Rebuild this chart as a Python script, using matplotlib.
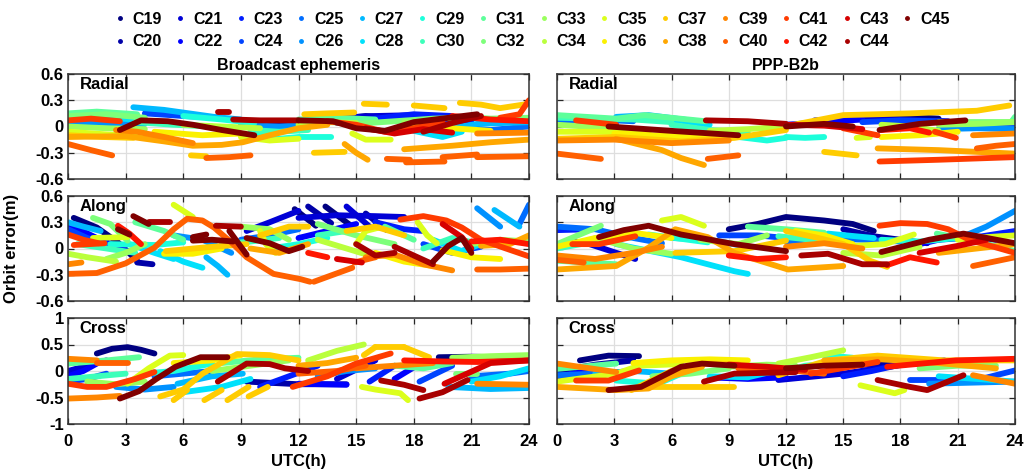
import numpy as np
import matplotlib
matplotlib.use("Agg")
import matplotlib.pyplot as plt
from matplotlib.lines import Line2D

plt.rcParams['font.family'] = ['Liberation Sans', 'DejaVu Sans']
plt.rcParams['font.weight'] = 'bold'

satellites = [f"C{n}" for n in range(19, 46)]
hour_ticks = [0, 3, 6, 9, 12, 15, 18, 21, 24]
ra_ticks = [-0.6, -0.3, 0, 0.3, 0.6]
ra_labels = ["-0.6", "-0.3", "0", "0.3", "0.6"]
cr_ticks = [-1, -0.5, 0, 0.5, 1]
cr_labels = ["-1", "-0.5", "0", "0.5", "1"]

# Orbit error arcs: (satellite, UTC hours, error in metres)
be_radial = [
    ("C31", [0, 1.5, 3.6], [0.15, 0.17, 0.14]),
    ("C32", [0, 2.0, 4.0], [0.12, 0.14, 0.10]),
    ("C25", [0.3, 1.5, 3.1], [0.09, 0.10, 0.08]),
    ("C41", [0, 1.2, 2.7], [0.07, 0.09, 0.06]),
    ("C45", [2.7, 3.8, 5.2, 6.5, 8.0, 9.7], [-0.04, 0.07, 0.06, 0.02, -0.04, -0.10]),
    ("C44", [7.8, 8.4], [0.17, 0.17]),
    ("C44", [8.6, 10, 12], [0.08, 0.07, 0.07]),
    ("C27", [3.4, 5.0, 7.6, 9.0], [0.22, 0.19, 0.11, 0.08]),
    ("C29", [6.0, 8.0, 9.7], [0.12, 0.08, 0.04]),
    ("C29", [9.7, 11, 12, 13.7], [-0.08, -0.14, -0.12, -0.12]),
    ("C35", [0, 2, 4.8], [-0.06, -0.09, -0.12]),
    ("C35", [9.0, 10.5, 12], [-0.12, -0.16, -0.14]),
    ("C37", [0, 1.8, 3.4], [-0.10, -0.12, -0.13]),
    ("C38", [0, 3.0, 5.0, 6.5, 8.0, 9.1, 10.5, 12, 13.5],
     [-0.12, -0.11, -0.17, -0.22, -0.21, -0.18, -0.10, -0.02, 0.02]),
    ("C39", [2.5, 3.6, 5.0, 6.5], [-0.04, -0.06, -0.12, -0.19]),
    ("C40", [0, 1.2, 2.3], [-0.20, -0.27, -0.33]),
    ("C37", [6.4, 7.2], [-0.33, -0.34]),
    ("C40", [7.2, 8.4, 9.5], [-0.36, -0.35, -0.33]),
    ("C36", [4.5, 7, 9], [-0.06, -0.10, -0.08]),
    ("C26", [0, 2, 4], [0.05, 0.04, 0.03]),
    ("C22", [0, 1.5, 3], [0.11, 0.12, 0.10]),
    ("C21", [0.5, 2], [0.08, 0.10]),
    ("C28", [0, 2, 3.5], [0.12, 0.10, 0.08]),
    ("C33", [0, 2, 4], [0.0, -0.02, -0.03]),
    ("C24", [4, 6, 8], [0.15, 0.12, 0.10]),
    ("C30", [3.5, 5.5, 7.5], [0.05, 0.02, 0.0]),
    ("C34", [6, 8, 10], [0.02, 0.0, -0.02]),
    ("C26", [9, 11, 13], [0.02, 0.0, 0.03]),
    ("C20", [10, 12, 14], [0.04, 0.06, 0.10]),
    ("C30", [9.5, 11, 12.5], [-0.04, -0.06, -0.04]),
    ("C37", [12.3, 13.5, 14.9], [0.14, 0.15, 0.16]),
    ("C37", [15.4, 16.6], [0.26, 0.25]),
    ("C37", [18.0, 19.6], [0.24, 0.21]),
    ("C37", [20.4, 21.5, 22.5, 24], [0.27, 0.25, 0.21, 0.26]),
    ("C21", [12, 14, 16, 18], [0.06, 0.10, 0.12, 0.13]),
    ("C23", [14, 16, 18, 20], [0.04, 0.09, 0.14, 0.12]),
    ("C19", [13.5, 15.5, 17], [0.07, 0.12, 0.10]),
    ("C31", [12, 14, 16], [0.08, 0.10, 0.08]),
    ("C32", [15, 17, 19, 21], [0.03, 0.06, 0.09, 0.10]),
    ("C32", [20.5, 22, 24], [0.11, 0.09, 0.10]),
    ("C33", [17.5, 19.5], [0.05, 0.0]),
    ("C22", [17, 19, 21], [0.12, 0.08, 0.05]),
    ("C36", [18, 20, 22], [0.02, -0.02, -0.05]),
    ("C35", [14.8, 15.5, 16.8], [-0.08, -0.15, -0.15]),
    ("C41", [13.5, 15, 16.5, 18, 19.5], [0.06, 0.02, -0.06, -0.02, 0.05]),
    ("C43", [15.5, 17, 18.5, 20], [-0.02, -0.08, -0.03, -0.07]),
    ("C45", [12, 13.8, 15, 16.5, 18.0, 21.3], [0.07, 0.06, -0.02, -0.05, 0.05, 0.14]),
    ("C44", [18.5, 20, 21.5], [-0.06, 0.04, 0.12]),
    ("C42", [20, 22, 24], [0.12, 0.08, 0.06]),
    ("C37", [12.8, 14.4], [-0.30, -0.29]),
    ("C38", [14.4, 15.0, 15.6], [-0.20, -0.30, -0.38]),
    ("C40", [16.6, 17.8], [-0.37, -0.38]),
    ("C40", [17.6, 19.6], [-0.41, -0.40]),
    ("C40", [19.5, 21.3], [-0.35, -0.32]),
    ("C40", [21.3, 24], [-0.35, -0.34]),
    ("C38", [17.5, 20, 22, 24], [-0.26, -0.22, -0.18, -0.15]),
    ("C39", [21.3, 24], [-0.08, -0.07]),
    ("C27", [19.0, 21.3, 24], [-0.05, 0.03, 0.05]),
    ("C25", [20, 22, 24], [0.0, -0.04, 0.0]),
    ("C41", [22.5, 23.5, 24], [0.10, 0.14, 0.30]),
    ("C28", [18, 19.5, 20.5], [-0.05, -0.12, -0.06]),
    ("C34", [12, 13.5, 15], [0.02, 0.05, 0.04]),
]

be_along = [
    ("C19", [0.3, 1.5, 2.6, 3.6], [0.35, 0.24, 0.07, -0.14]),
    ("C20", [3.6, 4.4], [-0.16, -0.18]),
    ("C22", [0, 1.5, 3.1], [0.28, 0.12, -0.03]),
    ("C24", [0, 1, 2], [0.22, 0.12, 0.05]),
    ("C27", [0, 0.8, 1.7], [0.30, 0.25, 0.20]),
    ("C30", [0.5, 2, 3.5], [0.05, 0.0, -0.05]),
    ("C34", [0, 1, 2.5], [-0.06, -0.10, -0.15]),
    ("C33", [2, 3, 4], [-0.12, -0.05, 0.05]),
    ("C32", [1.3, 2.2, 3.1], [0.35, 0.28, 0.09]),
    ("C31", [3.5, 5, 6], [0.30, 0.20, 0.10]),
    ("C35", [1.3, 3.1], [0.12, 0.13]),
    ("C41", [0, 0.8, 1.6], [0.16, 0.10, 0.06]),
    ("C41", [0.3, 1.9], [0.04, 0.06]),
    ("C42", [2.6, 3.2, 3.8], [0.26, 0.17, 0.05]),
    ("C39", [0, 0.7], [-0.18, -0.16]),
    ("C40", [0, 1.5, 3.0, 4.5, 5.5, 6.2, 7.0, 7.6, 8.5, 9.3, 10.7, 12.1, 12.6],
     [-0.29, -0.28, -0.17, 0.01, 0.22, 0.34, 0.32, 0.24, 0.07, -0.10, -0.29, -0.35, -0.38]),
    ("C45", [2.6, 3.2], [0.22, 0.16]),
    ("C45", [3.4, 4.2], [0.37, 0.28]),
    ("C44", [4.2, 5.3], [0.30, 0.30]),
    ("C45", [6.5, 7.2], [0.13, 0.16]),
    ("C44", [7.7, 9.0], [0.26, 0.25]),
    ("C45", [8.4, 9.3], [0.20, -0.07]),
    ("C45", [6.5, 7.5, 8.6], [0.09, 0.10, 0.08]),
    ("C45", [9.3, 10.5, 11.5, 12.2], [0.12, 0.06, -0.03, 0.02]),
    ("C35", [5.5, 6.5], [0.50, 0.36]),
    ("C28", [4.8, 6.0, 7.0], [-0.03, -0.15, -0.22]),
    ("C27", [7.2, 7.8, 8.3], [-0.10, -0.20, -0.30]),
    ("C28", [3.2, 4.5, 5.5], [0.05, -0.05, -0.12]),
    ("C26", [5.5, 7, 8.5], [0.15, 0.10, -0.05]),
    ("C29", [2.2, 4.5, 6.0], [0.05, 0.04, 0.07]),
    ("C37", [5.1, 7, 9.3], [-0.03, 0.01, 0.05]),
    ("C36", [5.0, 6.5, 8.0], [-0.06, -0.06, 0.0]),
    ("C35", [10.0, 10.3, 10.8], [0.20, 0.05, -0.05]),
    ("C21", [9.3, 10.5, 12], [0.20, 0.30, 0.43]),
    ("C25", [9, 10.5, 12], [0.10, 0.15, 0.22]),
    ("C30", [8, 9.5, 11], [0.05, 0.08, 0.12]),
    ("C33", [9, 10.5, 11.5], [0.25, 0.22, 0.10]),
    ("C37", [10, 11.5, 12.5], [0.15, 0.25, 0.25]),
    ("C38", [9.5, 11, 12.5], [0.0, -0.05, 0.05]),
    ("C29", [10.5, 12, 13.5], [0.0, 0.05, 0.12]),
    ("C19", [11.8, 12.9], [0.45, 0.26]),
    ("C20", [12.5, 13.7], [0.48, 0.29]),
    ("C19", [13.4, 14.8], [0.48, 0.25]),
    ("C21", [14.5, 15.7], [0.48, 0.25]),
    ("C20", [15.5, 16.6], [0.40, 0.21]),
    ("C21", [12, 14, 16, 17.5], [0.35, 0.38, 0.37, 0.36]),
    ("C23", [16.0, 17.5, 18.5], [0.30, 0.22, 0.20]),
    ("C22", [12, 13.5, 15], [0.12, 0.20, 0.28]),
    ("C34", [13, 14.5, 16], [0.10, 0.0, -0.10]),
    ("C41", [17.3, 18.5, 19.7, 20.5, 21.5, 22.8, 24], [0.33, 0.37, 0.32, 0.24, 0.10, 0.0, -0.09]),
    ("C44", [15.0, 16.0, 17.0], [0.05, -0.08, -0.05]),
    ("C44", [17.0, 18.2, 19.0], [0.02, -0.10, -0.18]),
    ("C45", [19.0, 19.8, 20.5, 21.0], [-0.15, 0.03, 0.12, -0.05]),
    ("C43", [19.5, 20.5, 21.0], [0.28, 0.13, 0.0]),
    ("C42", [12.5, 13.5], [-0.05, -0.10]),
    ("C43", [14, 15.3], [-0.12, -0.16]),
    ("C40", [12.8, 13.8, 14.8], [-0.38, -0.30, -0.22]),
    ("C40", [14.9, 16.0], [-0.16, -0.10]),
    ("C40", [21.3, 22.5, 24], [-0.24, -0.24, -0.23]),
    ("C39", [15.5, 17, 18.5, 20], [-0.10, -0.07, -0.18, -0.25]),
    ("C36", [16, 17.5, 19], [-0.05, -0.15, -0.20]),
    ("C26", [21.3, 22.5], [0.46, 0.25]),
    ("C27", [22.2, 23.5], [0.44, 0.25]),
    ("C25", [23.5, 24.0], [0.28, 0.50]),
    ("C35", [18.2, 18.7, 19.2], [0.30, 0.15, 0.06]),
    ("C32", [13, 15, 17], [0.28, 0.15, 0.05]),
    ("C31", [16.5, 18], [0.25, 0.10]),
    ("C24", [18.5, 20, 21.5], [0.05, -0.05, 0.02]),
    ("C30", [13, 14.5], [0.15, 0.20]),
    ("C30", [18.5, 20, 21.5], [0.0, 0.12, 0.05]),
    ("C37", [14.5, 16, 17.5], [0.20, 0.25, 0.15]),
    ("C36", [19.5, 21, 22.5], [-0.02, -0.10, -0.12]),
    ("C28", [19, 20.5, 21.5], [0.10, -0.03, 0.05]),
    ("C33", [21, 22.5, 24], [0.05, 0.10, 0.08]),
    ("C38", [21.5, 23, 24], [0.03, 0.05, 0.15]),
    ("C42", [21, 22.5, 24], [0.08, 0.10, 0.05]),
    ("C35", [15.0, 15.5, 16.2], [0.05, 0.20, 0.24]),
]

be_cross = [
    ("C19", [1.5, 2.3, 3.1, 3.8, 4.5], [0.33, 0.42, 0.45, 0.40, 0.33]),
    ("C21", [0, 1, 2], [0.0, 0.10, 0.20]),
    ("C22", [0, 0.8, 1.5], [-0.10, 0.0, 0.14]),
    ("C24", [0, 1.0, 2.0], [-0.20, -0.15, -0.05]),
    ("C30", [0, 1.5, 3], [-0.15, -0.10, -0.05]),
    ("C33", [1, 2.5, 4], [-0.20, -0.25, -0.20]),
    ("C39", [0, 1.5], [0.23, 0.20]),
    ("C40", [1.5, 3.1], [0.15, 0.15]),
    ("C31", [0, 2, 3.7], [0.14, 0.20, 0.26]),
    ("C41", [0, 1, 2, 3.5, 4.5], [-0.24, -0.30, -0.30, -0.15, -0.02]),
    ("C39", [0, 1.5, 2.7], [-0.52, -0.50, -0.47]),
    ("C45", [2.7, 3.7, 4.6, 5.6, 6.9, 8.3], [-0.52, -0.38, -0.15, 0.08, 0.26, 0.26]),
    ("C44", [7.8, 8.6, 9.3, 10.5, 11.3, 12.5], [-0.20, -0.02, 0.14, 0.13, 0.05, 0.0]),
    ("C35", [3.1, 4.2, 5.3, 6.0], [-0.24, 0.05, 0.29, 0.30]),
    ("C37", [4.8, 6, 7.0, 8.8, 10.5, 12], [-0.48, -0.35, -0.05, 0.32, 0.30, 0.20]),
    ("C37", [5.5, 6.2], [-0.55, -0.36]),
    ("C37", [7.1, 8.0], [-0.55, -0.36]),
    ("C37", [8.3, 9.4], [-0.55, -0.30]),
    ("C37", [9.4, 10.4], [-0.48, -0.30]),
    ("C29", [3.9, 5.5, 7.5], [-0.05, 0.0, 0.14]),
    ("C27", [5.7, 7.5, 9.1], [-0.24, -0.10, -0.05]),
    ("C25", [4.5, 6, 7.5], [-0.10, -0.05, 0.0]),
    ("C20", [9.3, 12, 14.5], [-0.20, -0.25, -0.25]),
    ("C26", [2.5, 4, 5.5], [-0.30, -0.35, -0.30]),
    ("C28", [6, 8, 9.5], [-0.40, -0.30, -0.15]),
    ("C33", [7.5, 9.5, 11.5], [0.0, 0.10, 0.20]),
    ("C31", [8, 10, 12], [0.15, 0.22, 0.25]),
    ("C36", [5.5, 7.5, 9], [0.15, 0.20, 0.30]),
    ("C23", [10, 11.5, 13], [-0.30, -0.10, 0.10]),
    ("C22", [12, 14.5], [-0.24, -0.26]),
    ("C26", [13, 14.5, 16], [-0.10, 0.0, 0.05]),
    ("C23", [15.7, 17.0], [-0.20, 0.10]),
    ("C22", [17.0, 18.6], [-0.15, 0.20]),
    ("C24", [18.3, 20.0], [-0.20, 0.10]),
    ("C21", [14, 16], [-0.15, 0.20]),
    ("C34", [12.5, 14, 15.4], [0.20, 0.38, 0.50]),
    ("C37", [15.4, 16.0], [0.30, 0.45]),
    ("C37", [16, 17.5], [0.45, 0.45]),
    ("C37", [17.5, 18.8], [0.45, 0.26]),
    ("C39", [15, 17, 19], [0.05, 0.10, 0.15]),
    ("C31", [17, 18.5, 20], [0.10, 0.05, 0.15]),
    ("C41", [11.7, 13.5, 15.0, 16.8], [-0.30, -0.10, 0.14, 0.33]),
    ("C42", [17.5, 19.5, 21.3, 24], [0.20, 0.18, 0.17, 0.20]),
    ("C44", [16.3, 17.5, 18.5], [-0.18, -0.26, -0.36]),
    ("C44", [18.3, 19.5, 20.8], [-0.52, -0.40, -0.17]),
    ("C35", [15.3, 16.0, 17.3, 17.7], [-0.30, -0.35, -0.42, -0.55]),
    ("C19", [19.3, 21, 24], [0.26, 0.27, 0.25]),
    ("C27", [19.8, 22, 24], [-0.30, -0.34, -0.32]),
    ("C28", [21, 22.5, 24], [-0.20, -0.10, 0.05]),
    ("C33", [20, 22, 24], [0.25, 0.28, 0.30]),
    ("C43", [19.6, 22, 24], [-0.24, 0.15, 0.20]),
    ("C39", [21.3, 24], [-0.24, -0.26]),
    ("C32", [20.2, 21.3], [-0.05, -0.05]),
    ("C40", [12, 14, 15.5], [-0.05, 0.0, 0.10]),
    ("C38", [12, 13.5, 15], [0.10, 0.15, 0.25]),
    ("C25", [21, 23, 24], [-0.10, -0.05, 0.0]),
]

ppp_radial = [
    ("C31", [0, 3.1, 4.6, 7.8], [0.13, 0.09, 0.13, 0.06]),
    ("C30", [0, 2, 4, 6], [0.10, 0.09, 0.08, 0.05]),
    ("C27", [3.1, 4.8, 7.7], [0.11, 0.13, 0.05]),
    ("C28", [4, 6, 8], [0.10, 0.08, 0.02]),
    ("C23", [0, 1.5, 3.1], [0.05, 0.06, 0.05]),
    ("C25", [0, 2, 4], [0.07, 0.08, 0.06]),
    ("C41", [1.0, 3.1], [0.07, 0.02]),
    ("C45", [2.7, 6, 9.5], [0.0, -0.05, -0.10]),
    ("C44", [7.8, 10, 12], [0.07, 0.06, 0.03]),
    ("C35", [0, 2, 4.8], [-0.06, -0.06, -0.07]),
    ("C36", [3, 6, 9], [-0.08, -0.11, -0.10]),
    ("C37", [0, 3.1, 6.5, 9.3, 12.0], [-0.14, -0.12, -0.17, -0.13, -0.04]),
    ("C39", [0, 3, 6, 9], [-0.16, -0.15, -0.19, -0.16]),
    ("C38", [3.1, 5.5, 6.5, 7.7], [-0.14, -0.27, -0.36, -0.44]),
    ("C40", [0, 2.3], [-0.31, -0.37]),
    ("C40", [7.9, 9.5], [-0.37, -0.33]),
    ("C29", [7.8, 9.5, 11, 12], [-0.06, -0.12, -0.16, -0.13]),
    ("C33", [0, 1.5, 3.0], [0.02, 0.0, 0.0]),
    ("C30", [6, 8, 10], [0.02, -0.04, -0.07]),
    ("C34", [8, 10, 12], [-0.05, -0.03, 0.0]),
    ("C37", [12.4, 15, 18.5, 22, 23.7], [0.02, 0.13, 0.15, 0.18, 0.24]),
    ("C21", [13.5, 16, 20.5], [0.07, 0.09, 0.06]),
    ("C22", [12, 14, 16], [0.02, 0.05, 0.08]),
    ("C19", [16, 18, 20], [0.10, 0.12, 0.09]),
    ("C24", [16, 18, 20, 22, 24], [0.05, 0.07, 0.06, 0.02, 0.0]),
    ("C32", [20, 24], [0.05, 0.05]),
    ("C33", [20, 22, 24], [0.02, 0.03, 0.05]),
    ("C31", [23.8, 24.0], [0.05, 0.11]),
    ("C26", [20, 22, 24], [-0.03, -0.02, -0.03]),
    ("C43", [12, 14, 16], [0.02, 0.01, -0.03]),
    ("C41", [15, 16.8], [-0.02, -0.10]),
    ("C41", [19.8, 20.9], [-0.06, -0.13]),
    ("C42", [17, 18.5, 19.5], [-0.04, -0.02, -0.07]),
    ("C45", [16.9, 19, 21.4], [-0.04, 0.03, 0.07]),
    ("C39", [21.8, 24], [-0.10, -0.08]),
    ("C38", [16.8, 20, 24], [-0.25, -0.27, -0.31]),
    ("C40", [22, 23, 24], [-0.25, -0.22, -0.20]),
    ("C37", [14.0, 15.7], [-0.29, -0.33]),
    ("C41", [16.9, 20, 24], [-0.40, -0.38, -0.35]),
    ("C29", [12, 13, 14], [-0.12, -0.13, -0.12]),
    ("C35", [15.7, 16.4], [-0.13, -0.12]),
    ("C36", [17, 19, 21], [-0.12, -0.10, -0.06]),
    ("C34", [17, 18.5, 20], [0.02, 0.0, -0.05]),
    ("C45", [12, 14, 15.5], [0.0, 0.03, 0.0]),
]

ppp_along = [
    ("C23", [0, 1.9], [0.21, 0.22]),
    ("C25", [0, 2, 4, 5.5], [0.25, 0.22, 0.12, 0.06]),
    ("C30", [0, 2, 4], [0.0, 0.08, 0.13]),
    ("C32", [0, 1.2, 2.3], [0.05, 0.16, 0.26]),
    ("C21", [0.7, 1.7, 4.1], [0.09, 0.05, -0.12]),
    ("C36", [0, 2, 4, 6], [0.02, 0.12, 0.18, 0.12]),
    ("C33", [2, 4, 6], [0.12, 0.0, -0.06]),
    ("C39", [0, 2, 4, 5.5], [-0.08, -0.12, -0.05, 0.02]),
    ("C41", [0.8, 2.2, 4.1], [0.05, 0.05, 0.14]),
    ("C45", [2.2, 3.5, 4.8, 6.5, 9.3, 12], [0.13, 0.21, 0.26, 0.16, 0.05, -0.03]),
    ("C35", [5.5, 6.5, 7.7], [0.32, 0.36, 0.26]),
    ("C38", [0, 3.1, 4.8, 6.2, 7.9, 9.3, 12.1, 15], [-0.24, -0.20, 0.01, 0.22, 0.13, -0.05, -0.24, -0.20]),
    ("C28", [3.1, 6.5, 9.3, 10], [0.05, -0.10, -0.26, -0.29]),
    ("C27", [6, 8, 10], [0.12, 0.10, 0.02]),
    ("C29", [4.8, 7.9], [0.16, 0.07]),
    ("C37", [6.2, 9.3, 12], [-0.05, -0.03, 0.09]),
    ("C42", [9, 10.5, 12], [-0.08, -0.12, -0.10]),
    ("C31", [0, 3.1], [-0.14, -0.18]),
    ("C31", [10, 12, 14], [0.25, 0.22, 0.18]),
    ("C40", [0, 1.4], [-0.13, -0.16]),
    ("C19", [9.0, 10.5, 12, 14, 15.5, 16.6], [0.22, 0.28, 0.36, 0.32, 0.28, 0.20]),
    ("C24", [8.5, 10.5, 12], [0.15, 0.15, 0.12]),
    ("C25", [12, 14, 16, 18], [0.08, 0.12, 0.10, 0.08]),
    ("C39", [12, 14, 16], [0.02, 0.06, 0.0]),
    ("C36", [12.5, 14, 15.5], [0.20, 0.15, 0.05]),
    ("C20", [15.0, 16.6, 19.4], [0.22, 0.14, 0.06]),
    ("C41", [16.9, 18, 19.4, 20.5, 21.6, 24], [0.26, 0.29, 0.28, 0.22, 0.10, -0.05]),
    ("C37", [12, 13.5, 15, 16.4, 17.3], [0.20, 0.13, 0.05, -0.14, -0.21]),
    ("C35", [15.6, 17.2, 18.7], [0.03, 0.05, 0.16]),
    ("C34", [15, 17, 19], [-0.05, -0.08, 0.02]),
    ("C29", [17, 19, 21], [0.10, 0.08, 0.12]),
    ("C44", [12.8, 14.2, 16.0, 17.3], [-0.08, -0.06, -0.18, -0.18]),
    ("C45", [17.0, 19.5, 21.3, 24], [-0.04, 0.10, 0.17, 0.06]),
    ("C42", [17.3, 18.5, 19.9], [-0.19, -0.10, -0.16]),
    ("C43", [19, 21, 22.5], [-0.05, 0.03, 0.10]),
    ("C40", [21.8, 24], [-0.20, -0.10]),
    ("C26", [21.3, 22.5, 24], [0.14, 0.25, 0.43]),
    ("C23", [20, 22, 24], [0.10, 0.13, 0.20]),
    ("C35", [21, 22.5, 24], [0.10, 0.13, 0.15]),
    ("C31", [19.9, 22, 24], [0.17, 0.08, -0.03]),
    ("C28", [14.2, 16.6], [0.17, 0.12]),
    ("C30", [11.6, 14.2], [0.14, 0.08]),
    ("C33", [7.5, 9.5, 11], [0.10, 0.05, 0.15]),
    ("C22", [19, 21, 23], [0.05, 0.15, 0.10]),
    ("C38", [20, 22, 24], [-0.05, 0.0, 0.05]),
]

ppp_cross = [
    ("C19", [1.2, 2.7, 4.3], [0.20, 0.29, 0.28]),
    ("C20", [0, 2, 4], [0.0, 0.12, 0.20]),
    ("C25", [0, 2, 4], [-0.08, -0.05, 0.0]),
    ("C27", [2, 4, 6], [-0.05, 0.0, -0.05]),
    ("C39", [0, 3.1], [0.14, -0.02]),
    ("C31", [0, 3.1], [0.04, 0.14]),
    ("C22", [0, 1.7], [-0.11, 0.01]),
    ("C41", [1.0, 2.7, 4.3], [-0.18, -0.18, 0.01]),
    ("C45", [2.7, 4.4, 6.5, 7.6, 9.3], [-0.36, -0.30, 0.08, 0.14, 0.10]),
    ("C44", [7.7, 9.3, 12.5], [-0.20, -0.05, -0.02]),
    ("C38", [0, 3.1, 4.8, 6.0, 7.6], [-0.30, -0.36, -0.33, -0.10, 0.08]),
    ("C37", [3.9, 6.0, 7.8, 9.5], [-0.36, 0.0, 0.14, 0.13]),
    ("C36", [4, 6, 8, 10], [0.15, 0.20, 0.22, 0.20]),
    ("C35", [0, 3.1, 4.3, 6.5], [-0.20, -0.05, 0.10, 0.13]),
    ("C29", [3.1, 5.3, 6.9], [-0.18, -0.24, 0.01]),
    ("C32", [5, 7, 9], [-0.10, -0.05, 0.05]),
    ("C37", [5.0, 9.3], [-0.30, -0.30]),
    ("C43", [9, 11, 13], [0.12, 0.08, 0.02]),
    ("C22", [8, 10, 12], [-0.12, -0.15, -0.12]),
    ("C34", [11.6, 13.3, 15.0], [0.14, 0.26, 0.39]),
    ("C29", [14, 15.5], [0.30, 0.25]),
    ("C37", [11.6, 14.2, 16.8, 20.3, 24], [-0.08, 0.20, 0.29, 0.20, 0.20]),
    ("C38", [14, 17, 20, 23], [0.20, 0.22, 0.15, 0.05]),
    ("C41", [13.3, 16.8], [-0.05, 0.17]),
    ("C42", [17.3, 20.9, 24], [0.08, 0.20, 0.23]),
    ("C45", [12, 14, 16], [0.05, 0.10, 0.12]),
    ("C21", [11.6, 15, 18.5, 20.3], [-0.17, -0.05, 0.14, 0.20]),
    ("C20", [15, 18, 21], [0.10, 0.15, 0.12]),
    ("C44", [16.8, 18.5, 19.4, 21.3], [-0.17, -0.30, -0.36, -0.08]),
    ("C35", [15.9, 17.7, 18.2], [-0.27, -0.42, -0.36]),
    ("C24", [18.5, 22, 24], [-0.17, -0.17, 0.01]),
    ("C39", [21.8, 24], [-0.08, -0.24]),
    ("C26", [19.5, 24], [-0.24, -0.20]),
    ("C28", [20, 22, 24], [-0.10, -0.15, -0.20]),
    ("C23", [15, 16.5, 18], [-0.10, 0.0, 0.12]),
    ("C30", [12, 13, 14.5], [0.0, 0.10, 0.15]),
    ("C28", [8, 10, 12], [-0.10, -0.12, 0.05]),
    ("C33", [9, 11, 12.5], [0.08, 0.12, 0.10]),
    ("C40", [9.5, 12, 14], [0.05, 0.02, -0.05]),
    ("C32", [19, 21, 23], [0.05, 0.10, 0.10]),
]

cmap = plt.get_cmap('jet')
sat_color = {s: cmap(i / (len(satellites) - 1)) for i, s in enumerate(satellites)}

W, H = 1026, 474
fig = plt.figure(figsize=(W / 100, H / 100), dpi=100)


def frac(x0, y_top, x1, y_bot):
    return [x0 / W, 1 - y_bot / H, (x1 - x0) / W, (y_bot - y_top) / H]


cols = [(68, 529), (557, 1015)]
rows = [(74, 179), (196, 301), (318, 424)]
panels = [[be_radial, be_along, be_cross], [ppp_radial, ppp_along, ppp_cross]]
names = ["Radial", "Along", "Cross"]
titles = ["Broadcast ephemeris", "PPP-B2b"]

for c, (x0, x1) in enumerate(cols):
    for r, (yt, yb) in enumerate(rows):
        ax = fig.add_axes(frac(x0, yt, x1, yb))
        arcs = sorted(panels[c][r], key=lambda a: satellites.index(a[0]))
        for sat, t, v in arcs:
            ax.plot(t, v, color=sat_color[sat], lw=4.2,
                    solid_capstyle='round', solid_joinstyle='round')
        ax.set_xlim(0, 24)
        ax.set_xticks(hour_ticks)
        if r < 2:
            ax.set_ylim(-0.6, 0.6)
            ax.set_yticks(ra_ticks)
            ax.set_yticklabels(ra_labels)
        else:
            ax.set_ylim(-1, 1)
            ax.set_yticks(cr_ticks)
            ax.set_yticklabels(cr_labels)
        if c == 1:
            ax.set_yticklabels([])
        if r < 2:
            ax.set_xticklabels([])
        else:
            ax.set_xticklabels([str(h) for h in hour_ticks])
            ax.set_xlabel("UTC(h)", fontsize=12, fontweight='bold', labelpad=4)
        ax.grid(True, color='#dedede', lw=0.9)
        ax.set_axisbelow(True)
        ax.tick_params(direction='in', top=True, right=True, length=4, width=0.9,
                       labelsize=12, pad=3, colors='#262626')
        ax.tick_params(axis='x', pad=7)
        for lab in ax.get_xticklabels() + ax.get_yticklabels():
            lab.set_fontweight('bold')
            lab.set_color('black')
        for sp in ax.spines.values():
            sp.set_color('#333333')
            sp.set_linewidth(1.1)
        ax.text(0.025, 0.97, names[r], transform=ax.transAxes, ha='left', va='top',
                fontsize=12, fontweight='bold')
        if r == 0:
            ax.set_title(titles[c], fontsize=11.5, fontweight='bold', pad=3)

fig.text(12 / W, 1 - 248 / H, "Orbit error(m)", rotation=90, ha='center', va='center',
         fontsize=12, fontweight='bold')

handles = [Line2D([], [], ls='', marker='.', markersize=5, color=sat_color[s]) for s in satellites]
fig.legend(handles, satellites, ncol=14, loc='upper center', bbox_to_anchor=(0.518, 1.005),
           frameon=False, handlelength=0.8, handletextpad=0.4,
           columnspacing=0.75, labelspacing=0.45, prop={'weight': 'bold', 'size': 11.5})

fig.savefig("out.png", dpi=100)
